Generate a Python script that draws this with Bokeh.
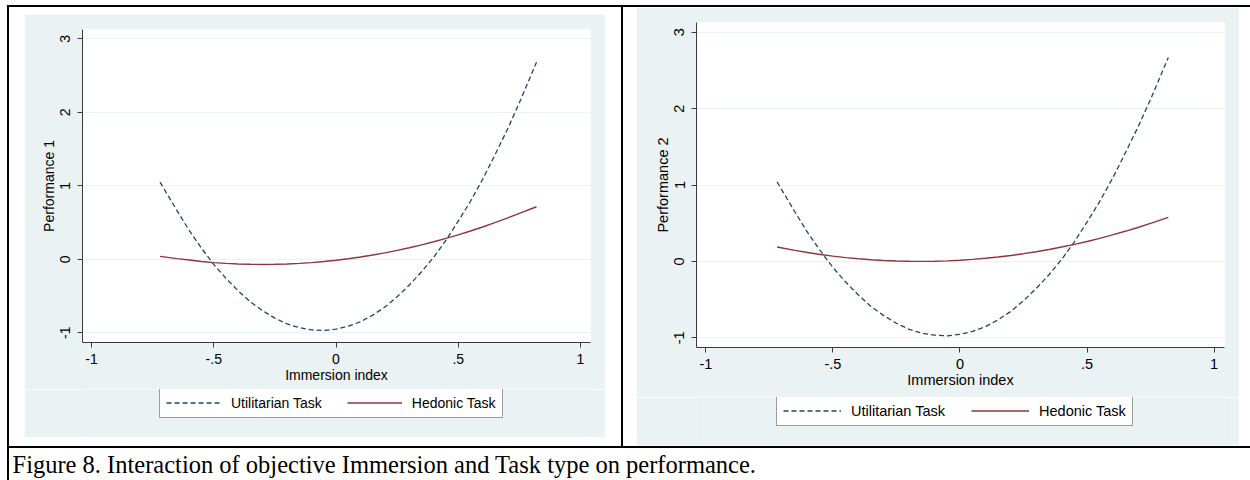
from bokeh.plotting import figure
from bokeh.models import Range1d, FixedTicker, Legend, LegendItem, Label, Spacer
from bokeh.layouts import column, row
from bokeh.embed import file_html
from bokeh.resources import INLINE

# ---------------- data ----------------
immersion = [-0.72, -0.65, -0.60, -0.55, -0.50, -0.45, -0.40, -0.35, -0.30, -0.25,
             -0.20, -0.15, -0.10, -0.05, 0.00, 0.05, 0.10, 0.15, 0.20, 0.25,
             0.30, 0.35, 0.40, 0.45, 0.50, 0.55, 0.60, 0.65, 0.70, 0.75, 0.82]

utilitarian_1 = [1.05, 0.66, 0.39, 0.15, -0.07, -0.26, -0.43, -0.58, -0.70, -0.80,
                 -0.88, -0.93, -0.96, -0.97, -0.95, -0.91, -0.85, -0.76, -0.65, -0.51,
                 -0.35, -0.17, 0.03, 0.26, 0.52, 0.79, 1.09, 1.42, 1.76, 2.13, 2.68]
hedonic_1 = [0.04, 0.01, -0.01, -0.03, -0.045, -0.056, -0.064, -0.068, -0.07, -0.068,
             -0.064, -0.056, -0.045, -0.03, -0.013, 0.007, 0.031, 0.058, 0.088, 0.121,
             0.157, 0.196, 0.239, 0.284, 0.333, 0.385, 0.44, 0.499, 0.56, 0.625, 0.715]

utilitarian_2 = [1.04, 0.65, 0.38, 0.14, -0.08, -0.27, -0.44, -0.59, -0.71, -0.81,
                 -0.89, -0.94, -0.965, -0.975, -0.955, -0.915, -0.855, -0.765, -0.655, -0.515,
                 -0.355, -0.175, 0.025, 0.255, 0.515, 0.785, 1.085, 1.415, 1.755, 2.12, 2.67]
hedonic_2 = [0.188, 0.144, 0.116, 0.091, 0.069, 0.050, 0.035, 0.022, 0.012, 0.005,
             0.001, 0.000, 0.002, 0.007, 0.015, 0.026, 0.041, 0.058, 0.078, 0.101,
             0.127, 0.156, 0.188, 0.223, 0.261, 0.302, 0.347, 0.394, 0.444, 0.497, 0.576]

series_labels = ["Utilitarian Task", "Hedonic Task"]
x_ticks = [-1, -0.5, 0, 0.5, 1]
x_tick_labels = ["-1", "-.5", "0", ".5", "1"]
y_ticks = [-1, 0, 1, 2, 3]
y_tick_labels = ["-1", "0", "1", "2", "3"]
x_title = "Immersion index"
y_titles = ["Performance 1", "Performance 2"]
caption = "Figure 8. Interaction of objective Immersion and Task type on performance."

# ---------------- styling ----------------
BG = "#EAF2F3"
NAVY = "#1A476F"
MAROON = "#90353B"
AXIS = "#3A3A3A"
SANS = "Liberation Sans"
UTIL_STYLE = dict(line_color=NAVY, line_width=1.3, line_dash="5 3")
HED_STYLE = dict(line_color=MAROON, line_width=1.4)


def make_plot(util, hed, ytitle, w, h, ml, mb, yr, fs):
    p = figure(width=w, height=h, output_backend="svg", toolbar_location=None,
               x_range=Range1d(-1.037, 1.041), y_range=Range1d(yr[0], yr[1]),
               min_border_left=ml, min_border_right=15, min_border_top=15,
               min_border_bottom=mb)
    p.background_fill_color = "white"
    p.border_fill_color = BG
    p.outline_line_color = None
    p.xgrid.visible = False
    p.ygrid.grid_line_color = BG
    p.ygrid.grid_line_width = 1
    p.ygrid.ticker = FixedTicker(ticks=y_ticks)

    p.line(immersion, util, **UTIL_STYLE)
    p.line(immersion, hed, **HED_STYLE)

    xa = p.xaxis[0]
    xa.ticker = FixedTicker(ticks=x_ticks)
    xa.major_label_overrides = {t: l for t, l in zip(x_ticks, x_tick_labels)}
    xa.axis_label = x_title
    xa.major_label_standoff = 6
    xa.axis_label_standoff = 0

    ya = p.yaxis[0]
    ya.ticker = FixedTicker(ticks=y_ticks)
    ya.major_label_overrides = {t: l for t, l in zip(y_ticks, y_tick_labels)}
    ya.axis_label = ytitle
    ya.major_label_orientation = "vertical"
    ya.major_label_standoff = 7
    ya.axis_label_standoff = 1

    for ax in (xa, ya):
        ax.axis_line_color = AXIS
        ax.axis_line_width = 1
        ax.major_tick_line_color = AXIS
        ax.major_tick_in = 0
        ax.major_tick_out = 5
        ax.minor_tick_line_color = None
        ax.major_label_text_font = SANS
        ax.major_label_text_font_size = fs
        ax.major_label_text_color = "black"
        ax.axis_label_text_font = SANS
        ax.axis_label_text_font_size = fs
        ax.axis_label_text_font_style = "normal"
        ax.axis_label_text_color = "black"
    return p


def make_legend_strip(w, h, ml, offset, fs, glyph_w, spacing):
    # same side borders as the plot above it, so that the frames line up
    lf = figure(width=w, height=h, output_backend="svg", toolbar_location=None,
                x_range=Range1d(0, 1), y_range=Range1d(0, 1),
                x_axis_type=None, y_axis_type=None,
                min_border_left=ml, min_border_right=15, min_border_top=0,
                min_border_bottom=0)
    lf.background_fill_color = BG
    lf.border_fill_color = BG
    lf.outline_line_color = None
    lf.grid.visible = False
    # sample lines kept outside the visible range: only their legend swatches show
    r1 = lf.line([5, 6], [5, 6], **UTIL_STYLE)
    r2 = lf.line([5, 6], [5, 6], **HED_STYLE)
    legend = Legend(items=[LegendItem(label=series_labels[0], renderers=[r1]),
                           LegendItem(label=series_labels[1], renderers=[r2])],
                    orientation="horizontal", location=(offset, h - 29),
                    glyph_width=glyph_w, glyph_height=17, label_height=17,
                    label_standoff=10, spacing=spacing, padding=6, margin=0,
                    border_line_color=AXIS, border_line_width=1,
                    background_fill_color="white", background_fill_alpha=1.0,
                    label_text_font=SANS, label_text_font_size=fs,
                    label_text_color="black")
    lf.add_layout(legend, "center")
    return lf


# panel 1: graph region 581 x 423 (plot part 375 + legend strip 48)
p1 = make_plot(utilitarian_1, hedonic_1, y_titles[0], 581, 375, 58, 47,
               (-1.132, 3.127), "14px")
l1 = make_legend_strip(581, 48, 58, 77, "14px", 55, 25)
panel1 = column(p1, l1, spacing=0, margin=(7, 16, 9, 15))

# panel 2: graph region 603 x 438 (plot part 390 + legend strip 48)
p2 = make_plot(utilitarian_2, hedonic_2, y_titles[1], 603, 390, 60, 50,
               (-1.127, 3.127), "14.5px")
l2 = make_legend_strip(603, 48, 60, 80, "14.5px", 58, 26)
panel2 = column(p2, l2, spacing=0, margin=(0, 11, 1, 13))

# caption cell
cap = figure(width=1241, height=32, output_backend="svg", toolbar_location=None,
             x_range=Range1d(0, 1241), y_range=Range1d(0, 32),
             x_axis_type=None, y_axis_type=None, min_border=0)
cap.outline_line_color = None
cap.grid.visible = False
cap.background_fill_color = "white"
cap.border_fill_color = "white"
cap.add_layout(Label(x=3, y=16, text=caption, text_font="Liberation Serif",
                     text_font_size="24.5px", text_color="black",
                     text_baseline="alphabetic", text_align="left"))


def bar(w, h):
    return Spacer(width=w, height=h, margin=0, styles={"background-color": "black"})


layout = column(
    bar(1243, 2),
    row(bar(2, 439), panel1, bar(2, 439), panel2, spacing=0),
    bar(1243, 2),
    row(bar(2, 32), cap, spacing=0),
    spacing=0,
    margin=(5, 0, 0, 7),
)

open("out.html", "w").write(file_html(layout, INLINE))
